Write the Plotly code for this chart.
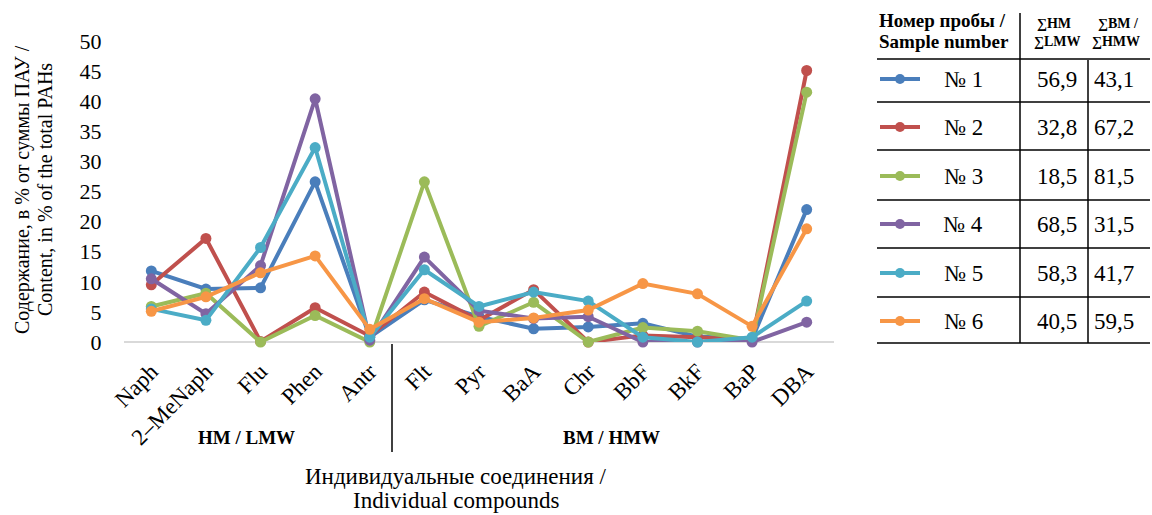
import plotly.graph_objects as go

# --- data -------------------------------------------------------------
compounds = ["Naph", "2–MeNaph", "Flu", "Phen", "Antr", "Flt", "Pyr",
             "BaA", "Chr", "BbF", "BkF", "BaP", "DBA"]

sample_1 = [11.8, 8.8, 9.0, 26.6, 0.8, 7.0, 4.2, 2.2, 2.5, 3.1, 0.9, 0.5, 22.0]
sample_2 = [9.5, 17.2, 0.1, 5.7, 1.0, 8.3, 3.6, 8.7, 0.0, 1.1, 0.8, 0.3, 45.1]
sample_3 = [5.9, 8.1, 0.0, 4.4, 0.0, 26.6, 2.6, 6.6, 0.0, 2.4, 1.8, 0.3, 41.5]
sample_4 = [10.5, 4.7, 12.7, 40.4, 0.3, 14.1, 5.2, 3.9, 4.2, 0.0, 0.0, 0.0, 3.3]
sample_5 = [5.5, 3.6, 15.7, 32.3, 0.8, 12.0, 5.9, 8.3, 6.8, 0.8, 0.0, 0.8, 6.8]
sample_6 = [5.1, 7.5, 11.5, 14.3, 2.1, 7.2, 3.3, 4.0, 5.3, 9.7, 8.0, 2.6, 18.8]

sample_names = ["№ 1", "№ 2", "№ 3", "№ 4", "№ 5", "№ 6"]
lmw_share = ["56,9", "32,8", "18,5", "68,5", "58,3", "40,5"]
hmw_share = ["43,1", "67,2", "81,5", "31,5", "41,7", "59,5"]

y_ticks = [0, 5, 10, 15, 20, 25, 30, 35, 40, 45, 50]

series = [sample_1, sample_2, sample_3, sample_4, sample_5, sample_6]
colors = ["#4A7EBB", "#C0504D", "#9BBB59", "#8064A2", "#4BACC6", "#F79646"]

# --- layout geometry (pixels) -----------------------------------------
W, H = 1152, 515
L, R, T, B = 124, 834, 41, 342
FONT = "Liberation Serif"


def px(x):
    return (x - L) / (R - L)


def py(y):
    return (B - y) / (B - T)


def label(text, x, y, size=20, **kw):
    return dict(text=text, xref="paper", yref="paper", x=px(x), y=py(y),
                xanchor=kw.pop("xanchor", "center"),
                yanchor=kw.pop("yanchor", "middle"),
                showarrow=False,
                font=dict(family=FONT, size=size, color="black"), **kw)


fig = go.Figure()
for name, vals, col in zip(sample_names, series, colors):
    fig.add_trace(go.Scatter(
        x=compounds, y=vals, name=name, mode="lines+markers",
        line=dict(color=col, width=4),
        marker=dict(color=col, size=11),
        cliponaxis=False, showlegend=False,
    ))

shapes = []
annotations = []

# divider between low- and high-molecular-weight groups
shapes.append(dict(type="line", xref="paper", yref="paper",
                   x0=px(392), x1=px(392), y0=py(344), y1=py(452),
                   line=dict(color="black", width=1.5)))
annotations += [
    label("<b>HM / LMW</b>", 246, 438, size=19),
    label("<b>BM / HMW</b>", 611, 438, size=19),
    label("Индивидуальные соединения /", 455, 476, size=23),
    label("Individual compounds", 456, 500, size=23),
    label("Содержание, в % от суммы ПАУ /", 22, 190, textangle=-90),
    label("Content, in % of the total PAHs", 45, 190, textangle=-90),
]

# --- side table: sample key with LMW/HMW shares -----------------------
tab_left, tab_right = 877, 1150
col1, col2 = 1020, 1088
header_bottom = 59
row_lines = [102, 150, 200, 248, 297, 343]
row_centers = [79, 127, 176, 224, 273, 321]

line_style = dict(color="black", width=1.5)
for yl in [header_bottom] + row_lines:
    shapes.append(dict(type="line", xref="paper", yref="paper",
                       x0=px(tab_left), x1=px(tab_right),
                       y0=py(yl), y1=py(yl), line=line_style))
shapes.append(dict(type="line", xref="paper", yref="paper",
                   x0=px(col1), x1=px(col1), y0=py(13), y1=py(343),
                   line=line_style))
shapes.append(dict(type="line", xref="paper", yref="paper",
                   x0=px(col2), x1=px(col2), y0=py(60), y1=py(343),
                   line=line_style))

annotations += [
    label("<b>Номер пробы /</b>", 877, 20, size=19, xanchor="left"),
    label("<b>Sample number</b>", 877, 41, size=19, xanchor="left"),
    label("<b>∑HM</b>", 1054, 23, size=14),
    label("<b>∑LMW</b>", 1057, 41, size=14),
    label("<b>∑BM /</b>", 1118, 23, size=14),
    label("<b>∑HMW</b>", 1116, 41, size=14),
]

for name, col, a, b, yc in zip(sample_names, colors, lmw_share,
                               hmw_share, row_centers):
    shapes.append(dict(type="line", xref="paper", yref="paper",
                       x0=px(880), x1=px(920), y0=py(yc), y1=py(yc),
                       line=dict(color=col, width=4)))
    shapes.append(dict(type="circle", xref="paper", yref="paper",
                       x0=px(895), x1=px(905), y0=py(yc + 5), y1=py(yc - 5),
                       fillcolor=col, line=dict(width=0)))
    annotations += [
        label(name, 963, yc, size=23),
        label(a, 1057, yc, size=23),
        label(b, 1114, yc, size=23),
    ]

fig.update_layout(
    width=W, height=H,
    margin=dict(l=L, r=W - R, t=T, b=H - B),
    paper_bgcolor="white", plot_bgcolor="white",
    font=dict(family=FONT, size=20, color="black"),
    shapes=shapes, annotations=annotations,
)
fig.update_xaxes(
    type="category", range=[-0.5, 12.5], tickangle=-45,
    showgrid=False, showline=False, zeroline=False, automargin=False,
    ticks="outside", ticklen=6, tickcolor="rgba(0,0,0,0)",
    tickfont=dict(family=FONT, size=23, color="black"),
)
fig.update_yaxes(
    range=[0, 50], tickvals=y_ticks, showgrid=False, automargin=False,
    showline=False, zeroline=True, zerolinecolor="#D9D9D9", zerolinewidth=2,
    ticks="outside", ticklen=17, tickcolor="rgba(0,0,0,0)",
    tickfont=dict(family=FONT, size=22, color="black"),
)

fig.write_html("out.html")
